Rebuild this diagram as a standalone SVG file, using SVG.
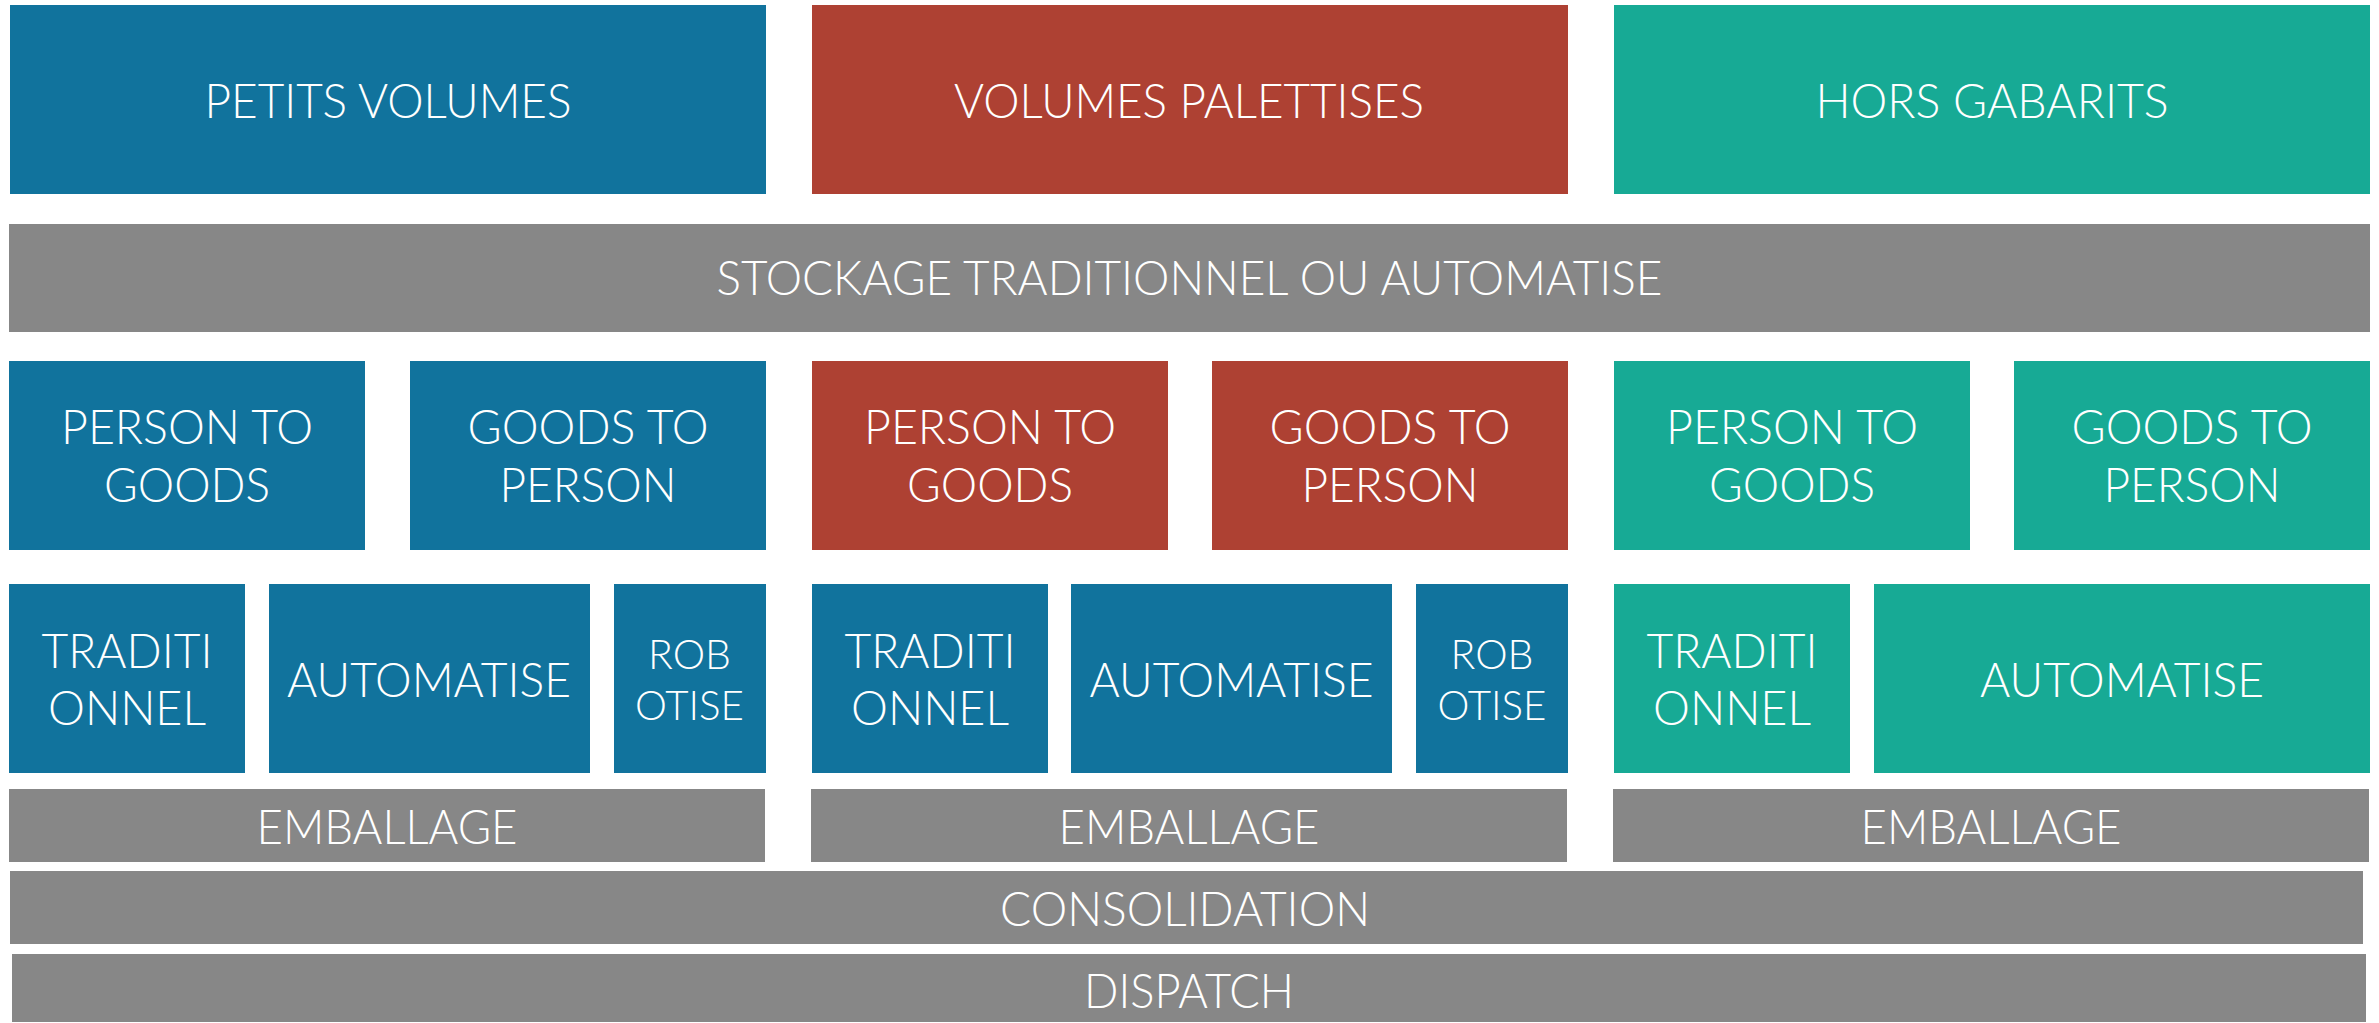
<svg xmlns="http://www.w3.org/2000/svg" width="2379" height="1023" viewBox="0 0 2379 1023">
  <style>
    .blue { fill: #11739D; }
    .red { fill: #AE4133; }
    .teal { fill: #17AA95; }
    .gray { fill: #878787; }
    text { font-family: Lato, "Open Sans", "Liberation Sans", sans-serif; font-weight: 300; fill: #FFFFFF; text-anchor: middle; }
    .big { font-size: 47px; }
    .small { font-size: 42px; }
  </style>
  <rect width="2379" height="1023" fill="#FFFFFF"/>

  <!-- Top categories -->
  <g id="petits-volumes">
    <rect class="blue" x="10" y="5" width="756" height="189"/>
    <text class="big" x="388" y="118" textLength="367" lengthAdjust="spacingAndGlyphs">PETITS VOLUMES</text>
  </g>
  <g id="volumes-palettises">
    <rect class="red" x="812" y="5" width="756" height="189"/>
    <text class="big" x="1189" y="118" textLength="470" lengthAdjust="spacingAndGlyphs">VOLUMES PALETTISES</text>
  </g>
  <g id="hors-gabarits">
    <rect class="teal" x="1614" y="5" width="756" height="189"/>
    <text class="big" x="1992" y="118" textLength="353" lengthAdjust="spacingAndGlyphs">HORS GABARITS</text>
  </g>

  <!-- Storage band -->
  <g id="stockage">
    <rect class="gray" x="9" y="224" width="2361" height="108"/>
    <text class="big" x="1189.5" y="295" textLength="946" lengthAdjust="spacingAndGlyphs">STOCKAGE TRADITIONNEL OU AUTOMATISE</text>
  </g>

  <!-- Picking modes (two-line labels) -->
  <g id="ptg-blue">
    <rect class="blue" x="9" y="361" width="356" height="189"/>
    <text class="big"><tspan x="187" y="444" textLength="252" lengthAdjust="spacingAndGlyphs">PERSON TO</tspan><tspan x="187" y="502" textLength="166" lengthAdjust="spacingAndGlyphs">GOODS</tspan></text>
  </g>
  <g id="gtp-blue">
    <rect class="blue" x="410" y="361" width="356" height="189"/>
    <text class="big"><tspan x="588" y="444" textLength="241" lengthAdjust="spacingAndGlyphs">GOODS TO</tspan><tspan x="588" y="502" textLength="177" lengthAdjust="spacingAndGlyphs">PERSON</tspan></text>
  </g>
  <g id="ptg-red">
    <rect class="red" x="812" y="361" width="356" height="189"/>
    <text class="big"><tspan x="990" y="444" textLength="252" lengthAdjust="spacingAndGlyphs">PERSON TO</tspan><tspan x="990" y="502" textLength="166" lengthAdjust="spacingAndGlyphs">GOODS</tspan></text>
  </g>
  <g id="gtp-red">
    <rect class="red" x="1212" y="361" width="356" height="189"/>
    <text class="big"><tspan x="1390" y="444" textLength="241" lengthAdjust="spacingAndGlyphs">GOODS TO</tspan><tspan x="1390" y="502" textLength="177" lengthAdjust="spacingAndGlyphs">PERSON</tspan></text>
  </g>
  <g id="ptg-teal">
    <rect class="teal" x="1614" y="361" width="356" height="189"/>
    <text class="big"><tspan x="1792" y="444" textLength="252" lengthAdjust="spacingAndGlyphs">PERSON TO</tspan><tspan x="1792" y="502" textLength="166" lengthAdjust="spacingAndGlyphs">GOODS</tspan></text>
  </g>
  <g id="gtp-teal">
    <rect class="teal" x="2014" y="361" width="356" height="189"/>
    <text class="big"><tspan x="2192" y="444" textLength="241" lengthAdjust="spacingAndGlyphs">GOODS TO</tspan><tspan x="2192" y="502" textLength="177" lengthAdjust="spacingAndGlyphs">PERSON</tspan></text>
  </g>

  <!-- Execution level: left block -->
  <g id="trad-1">
    <rect class="blue" x="9" y="584" width="236" height="189"/>
    <text class="big"><tspan x="127" y="668" textLength="171" lengthAdjust="spacingAndGlyphs">TRADITI</tspan><tspan x="127" y="725" textLength="158" lengthAdjust="spacingAndGlyphs">ONNEL</tspan></text>
  </g>
  <g id="auto-1">
    <rect class="blue" x="269" y="584" width="321" height="189"/>
    <text class="big" x="429" y="697" textLength="284" lengthAdjust="spacingAndGlyphs">AUTOMATISE</text>
  </g>
  <g id="robot-1">
    <rect class="blue" x="614" y="584" width="152" height="189"/>
    <text class="small"><tspan x="689.5" y="669" textLength="83" lengthAdjust="spacingAndGlyphs">ROB</tspan><tspan x="689.5" y="720" textLength="109" lengthAdjust="spacingAndGlyphs">OTISE</tspan></text>
  </g>

  <!-- Execution level: middle block -->
  <g id="trad-2">
    <rect class="blue" x="812" y="584" width="236" height="189"/>
    <text class="big"><tspan x="930" y="668" textLength="171" lengthAdjust="spacingAndGlyphs">TRADITI</tspan><tspan x="930" y="725" textLength="158" lengthAdjust="spacingAndGlyphs">ONNEL</tspan></text>
  </g>
  <g id="auto-2">
    <rect class="blue" x="1071" y="584" width="321" height="189"/>
    <text class="big" x="1231.5" y="697" textLength="284" lengthAdjust="spacingAndGlyphs">AUTOMATISE</text>
  </g>
  <g id="robot-2">
    <rect class="blue" x="1416" y="584" width="152" height="189"/>
    <text class="small"><tspan x="1492" y="669" textLength="83" lengthAdjust="spacingAndGlyphs">ROB</tspan><tspan x="1492" y="720" textLength="109" lengthAdjust="spacingAndGlyphs">OTISE</tspan></text>
  </g>

  <!-- Execution level: right block -->
  <g id="trad-3">
    <rect class="teal" x="1614" y="584" width="236" height="189"/>
    <text class="big"><tspan x="1732" y="668" textLength="171" lengthAdjust="spacingAndGlyphs">TRADITI</tspan><tspan x="1732" y="725" textLength="158" lengthAdjust="spacingAndGlyphs">ONNEL</tspan></text>
  </g>
  <g id="auto-3">
    <rect class="teal" x="1874" y="584" width="496" height="189"/>
    <text class="big" x="2122" y="697" textLength="284" lengthAdjust="spacingAndGlyphs">AUTOMATISE</text>
  </g>

  <!-- Packing -->
  <g id="emballage-1">
    <rect class="gray" x="9" y="789" width="756" height="73"/>
    <text class="big" x="387" y="844" textLength="261" lengthAdjust="spacingAndGlyphs">EMBALLAGE</text>
  </g>
  <g id="emballage-2">
    <rect class="gray" x="811" y="789" width="756" height="73"/>
    <text class="big" x="1189" y="844" textLength="261" lengthAdjust="spacingAndGlyphs">EMBALLAGE</text>
  </g>
  <g id="emballage-3">
    <rect class="gray" x="1613" y="789" width="756" height="73"/>
    <text class="big" x="1991" y="844" textLength="261" lengthAdjust="spacingAndGlyphs">EMBALLAGE</text>
  </g>

  <!-- Consolidation and dispatch -->
  <g id="consolidation">
    <rect class="gray" x="10" y="871" width="2353" height="73"/>
    <text class="big" x="1185" y="926" textLength="370" lengthAdjust="spacingAndGlyphs">CONSOLIDATION</text>
  </g>
  <g id="dispatch">
    <rect class="gray" x="12" y="954" width="2354" height="68"/>
    <text class="big" x="1189" y="1008" textLength="210" lengthAdjust="spacingAndGlyphs">DISPATCH</text>
  </g>
</svg>
